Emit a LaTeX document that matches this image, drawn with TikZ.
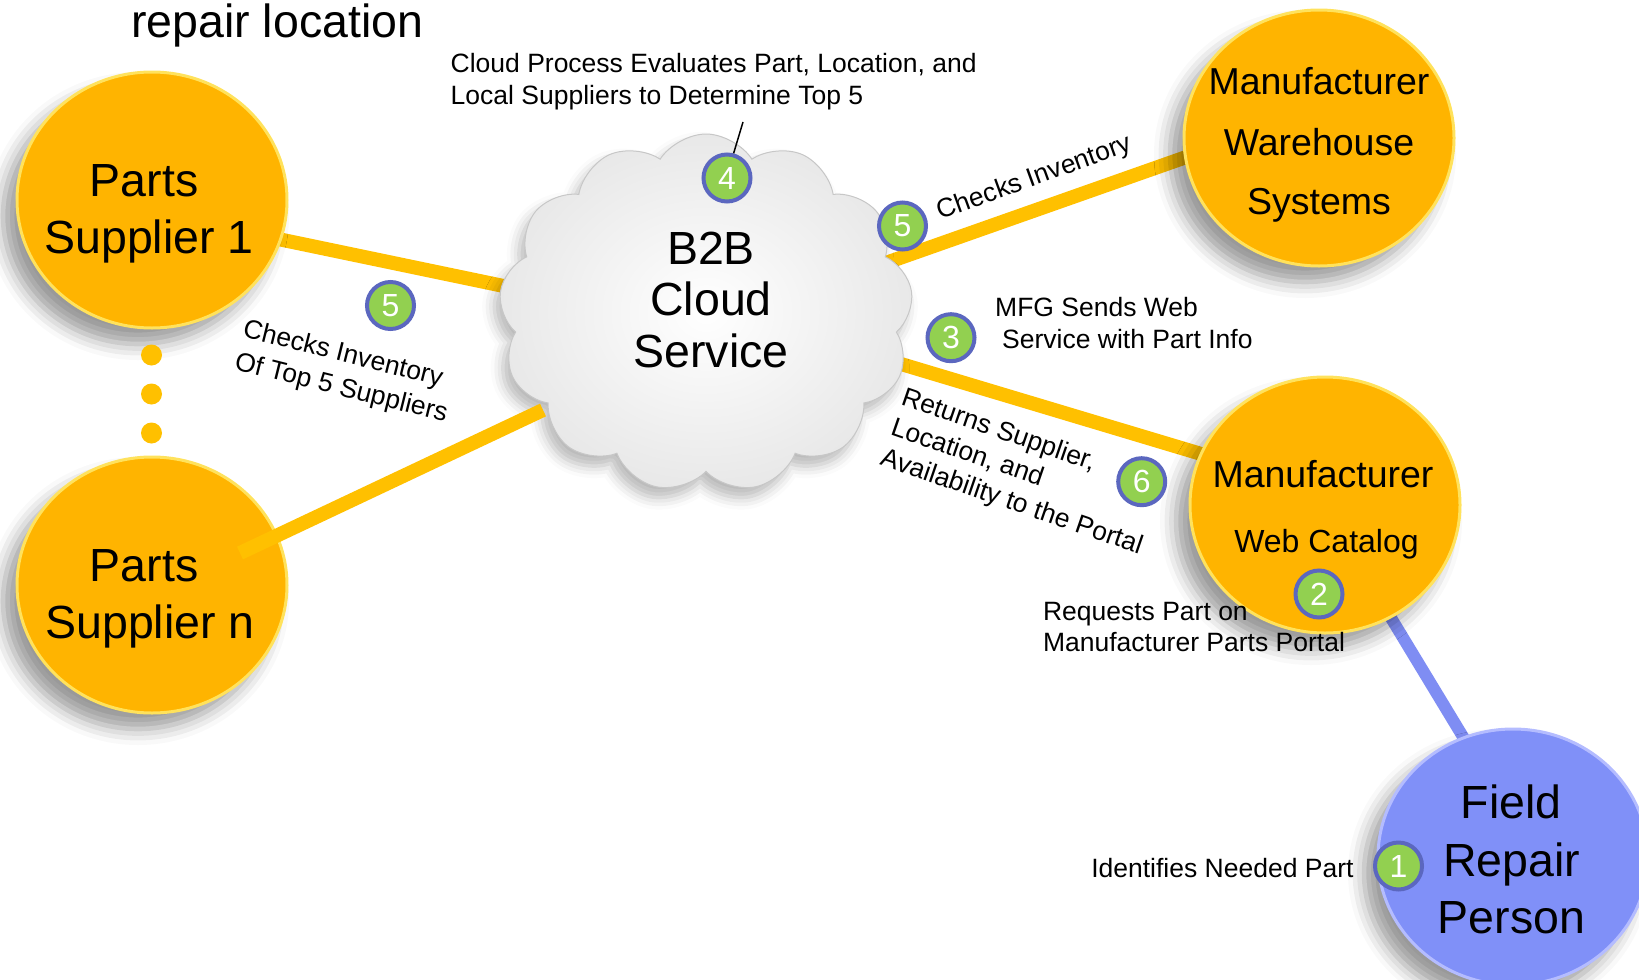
\documentclass[tikz,border=0pt]{standalone}
\usepackage{fontspec}
\setmainfont{Liberation Sans}
\usetikzlibrary{shapes.geometric,shapes.symbols,shadows.blur,calc}
\pgfdeclarelayer{background}
\pgfsetlayers{background,main}
\definecolor{orbO}{HTML}{FFB400}
\definecolor{orbRim}{HTML}{FFE25C}
\definecolor{lineY}{HTML}{FFC000}
\definecolor{orbB}{HTML}{8090F8}
\definecolor{rimB}{HTML}{B4BCFF}
\definecolor{lineB}{HTML}{7F8DF3}
\definecolor{badgeG}{HTML}{92D050}
\definecolor{badgeR}{HTML}{5B67BF}
\tikzset{
  orbshadow/.style={blur shadow={shadow xshift=-14pt, shadow yshift=-16pt, shadow blur radius=16pt, shadow opacity=40}},
  orb/.style={ellipse, minimum width=270pt, minimum height=256pt, inner sep=0pt, fill=orbO, draw=orbRim, line width=3pt, orbshadow},
  orbblue/.style={orb, fill=orbB, draw=rimB},
  ylink/.style={draw=lineY, line width=14pt},
  blink/.style={draw=lineB, line width=12pt},
  dotc/.style={circle, fill=lineY, minimum size=21pt, inner sep=0pt},
  badge/.style={circle, fill=badgeG, draw=badgeR, line width=4pt, minimum size=47pt, inner sep=0pt, text=white, font=\fontsize{32}{32}\selectfont},
  bigtxt/.style={anchor=base, inner sep=0pt, font=\fontsize{46.5}{56}\selectfont},
  midtxt/.style={anchor=base, inner sep=0pt, font=\fontsize{37.5}{45}\selectfont},
  cattxt/.style={anchor=base, inner sep=0pt, font=\fontsize{32}{38}\selectfont},
  smtxt/.style={anchor=base west, inner sep=0pt, font=\fontsize{26.5}{31}\selectfont},
}
\begin{document}
\begin{tikzpicture}[x=1pt, y=-1pt]
\useasboundingbox (0,0) rectangle (1639,980);

% title
\node[bigtxt, anchor=base west] (title) at (131,37) {repair location};

% orbs
\node[orb] (s1) at (152,200) {};
\node[bigtxt] (s1a) at (144,196) {Parts};
\node[bigtxt] (s1b) at (149,253) {Supplier 1};

\node[dotc] (d1) at (151.5,355) {};
\node[dotc] (d2) at (151.5,394) {};
\node[dotc] (d3) at (151.5,433) {};

\node[orb] (sn) at (152,585) {};
\node[bigtxt] (sna) at (144,581) {Parts};
\node[bigtxt] (snb) at (150,638) {Supplier n};

\node[orb] (mw) at (1319,138) {};
\node[midtxt] (mwa) at (1319,94) {Manufacturer};
\node[midtxt] (mwb) at (1319,155) {Warehouse};
\node[midtxt] (mwc) at (1319,214) {Systems};

\node[orb] (mc) at (1325,505) {};
\node[midtxt] (mca) at (1323,487) {Manufacturer};
\node[cattxt] (mcb) at (1326.5,552) {Web Catalog};

\node[orbblue] (fr) at (1513,857) {};
\node[bigtxt] (fra) at (1511,818.5) {Field};
\node[bigtxt] (frb) at (1511.5,876) {Repair};
\node[bigtxt] (frc) at (1511.5,933.5) {Person};

% cloud
\node[cloud, cloud puffs=13, cloud puff arc=115, aspect=1.2, minimum width=414pt, minimum height=358pt,
      draw=black!22, line width=1pt, inner color=white, outer color=black!9,
      blur shadow={shadow xshift=-6pt, shadow yshift=-10pt, shadow blur radius=12pt, shadow opacity=28}] (cl) at (706,313) {};
\node[bigtxt] (cla) at (711,264) {B2B};
\node[bigtxt] (clb) at (711,315.5) {Cloud};
\node[bigtxt] (clc) at (711,367) {Service};

% connectors beneath nodes
\begin{pgfonlayer}{background}
\draw[ylink] ($(s1.center)+(71,27.5)$) -- ($(cl.center)+(-152,-16.5)$);
\draw[ylink] ($(cl.center)+(174,-48)$) -- ($(mw.center)+(-89,3.6)$);
\draw[ylink] ($(cl.center)+(160,40.5)$) -- ($(mc.center)+(-87,-40)$);
\draw[blink] ($(mc.center)+(55.7,95.9)$) -- ($(fr.center)+(-42,-107)$);
\end{pgfonlayer}
% connector on top of Supplier n
\draw[ylink] ($(sn.center)+(88,-32)$) -- ($(cl.center)+(-163,97)$);

% badges
\node[badge] (b4) at (727,178) {4};
\node[badge] (b5a) at (902.5,226) {5};
\node[badge] (b5b) at (390.5,305.5) {5};
\node[badge] (b3) at (951,337.7) {3};
\node[badge] (b6) at (1141.7,481.7) {6};
\node[badge] (b2) at (1319,594) {2};
\node[badge] (b1) at (1398.5,866) {1};

% annotations
\node[smtxt] (t4a) at (450.5,72.5) {Cloud Process Evaluates Part, Location, and};
\node[smtxt] (t4b) at (450.5,104) {Local Suppliers to Determine Top 5};
\coordinate (lead4) at (743,122);
\draw[line width=1.5pt] (b4.75) -- (lead4);

\node[smtxt, rotate=20] (t5a) at (940.7,220) {Checks Inventory};

\node[smtxt, rotate=-14] (t5b1) at (241.7,336.7) {Checks Inventory};
\node[smtxt, rotate=-14] (t5b2) at (233.5,369) {Of Top 5 Suppliers};

\node[smtxt] (t3a) at (995,316.7) {MFG Sends Web};
\node[smtxt] (t3b) at (1002,348.3) {Service with Part Info};

\node[smtxt, rotate=-19] (t6a) at (900,404.5) {Returns Supplier,};
\node[smtxt, rotate=-19] (t6b) at (889.5,434.5) {Location, and};
\node[smtxt, rotate=-19] (t6c) at (879,464.5) {Availability to the Portal};

\node[smtxt] (t2a) at (1042.8,620) {Requests Part on};
\node[smtxt] (t2b) at (1042.8,651.5) {Manufacturer Parts Portal};

\node[smtxt, anchor=base east] (t1) at (1353.7,877) {Identifies Needed Part};
\end{tikzpicture}
\end{document}
